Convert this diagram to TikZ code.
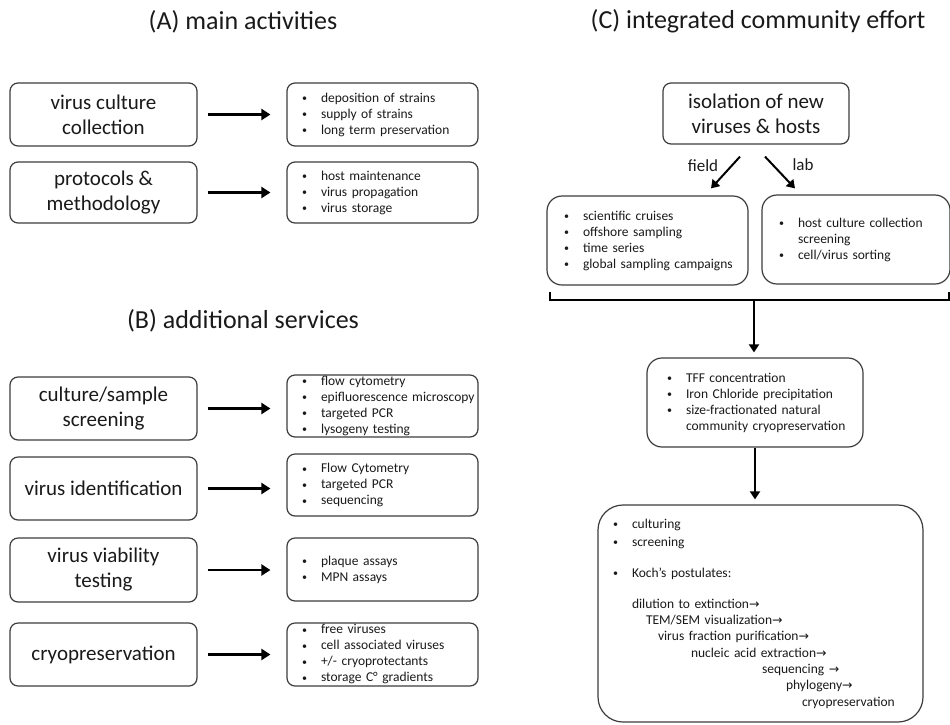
\documentclass[tikz,border=0pt]{standalone}
\usepackage{fontspec}
\setmainfont{Carlito}
\newfontfamily\djv{DejaVu Sans}
\usetikzlibrary{arrows.meta,calc}
\definecolor{boxc}{HTML}{3C3C3C}
\definecolor{txt}{HTML}{1A1A1A}
\newcommand\bitem[1]{\mbox{\makebox[19pt][l]{\raisebox{0.5pt}{\fontsize{10}{12}\selectfont\textbullet}}#1}}
\newcommand\rarr{{\djv\fontsize{12.5}{12}\selectfont →}}
\tikzset{
  x=1pt, y=-1pt,
  every node/.style={text=txt},
  box/.style={draw=boxc, line width=1.2pt, rounded corners=8pt, inner sep=0pt},
  big/.style={box, minimum width=187pt, align=center, font=\fontsize{21}{25}\selectfont},
  lst/.style={box, align=left, inner xsep=15pt, inner ysep=0pt, text width=#1, font=\fontsize{13.5}{16}\selectfont},
  title/.style={font=\fontsize{26}{30}\selectfont, inner sep=0pt},
  lbl/.style={font=\fontsize{17}{20}\selectfont, inner sep=0pt},
  harr/.style={draw=black, line width=2.6pt, -{Triangle[length=9pt,width=11pt]}, shorten <=10pt, shorten >=16pt},
  varr/.style={draw=black, line width=2pt, -{Triangle[length=8pt,width=10pt]}},
  brk/.style={draw=black, line width=1.8pt}
}
\begin{document}
\begin{tikzpicture}
\path[use as bounding box, fill=white] (0,0) rectangle (950,724);
% titles
\node[title] (tA) at (243,22) {(A) main activities};
\node[title] (tB) at (243,321) {(B) additional services};
\node[title] (tC) at (758,21) {(C) integrated community effort};
% (A)
\node[big, minimum height=63pt] (vcc) at (103.5,114.5) {virus culture\\collection};
\node[big, minimum height=61pt] (pm) at (103.5,192.5) {protocols \&\\methodology};
\node[lst=161pt, minimum height=63pt] (vccL) at (382.5,114.5) {\bitem{deposition of strains}\\\bitem{supply of strains}\\\bitem{long term preservation}};
\node[lst=161pt, minimum height=61pt] (pmL) at (382.5,192.5) {\bitem{host maintenance}\\\bitem{virus propagation}\\\bitem{virus storage}};
\draw[harr] (vcc.east) -- (vcc.east -| vccL.west);
\draw[harr] (pm.east) -- (pm.east -| pmL.west);
% (B)
\node[big, minimum height=63pt] (cs) at (103.5,408.5) {culture/sample\\screening};
\node[big, minimum height=63pt] (vi) at (103.5,488.5) {virus identification};
\node[big, minimum height=64pt] (vv) at (103.5,570) {virus viability\\testing};
\node[big, minimum height=63pt] (cr) at (103.5,654.5) {cryopreservation};
\node[lst=161pt, minimum height=62pt] (csL) at (382.5,406) {\bitem{flow cytometry}\\\bitem{epifluorescence microscopy}\\\bitem{targeted PCR}\\\bitem{lysogeny testing}};
\node[lst=161pt, minimum height=62pt] (viL) at (382.5,485) {\bitem{Flow Cytometry}\\\bitem{targeted PCR}\\\bitem{sequencing}};
\node[lst=161pt, minimum height=63pt] (vvL) at (382.5,569.5) {\bitem{plaque assays}\\\bitem{MPN assays}};
\node[lst=161pt, minimum height=63pt] (crL) at (382.5,654.5) {\bitem{free viruses}\\\bitem{cell associated viruses}\\\bitem{+/- cryoprotectants}\\\bitem{storage C° gradients}};
\draw[harr] (cs.east) -- (cs.east -| csL.west);
\draw[harr] (vi.east) -- (vi.east -| viL.west);
\draw[harr] (vv.east) -- (vv.east -| vvL.west);
\draw[harr] (cr.east) -- (cr.east -| crL.west);
% (C)
\node[big, minimum width=186pt, minimum height=61pt] (iso) at (756,113.5) {isolation of new\\viruses \& hosts};
\node[lst=167pt, inner xsep=17pt, rounded corners=15pt, minimum height=89pt] (field) at (647.5,240.5) {\bitem{scientific cruises}\\\bitem{offshore sampling}\\\bitem{time series}\\\bitem{global sampling campaigns}};
\node[lst=154pt, inner xsep=17pt, rounded corners=15pt, minimum height=89pt] (lab) at (856,239.5) {\bitem{host culture collection}\\\mbox{\hspace*{19pt}screening}\\\bitem{cell/virus sorting}};
\draw[varr] ($(iso.south)+(-16,12)$) -- ($(field.north)+(63.5,-7)$);
\draw[varr] ($(iso.south)+(9,12)$) -- ($(lab.north)+(-61,-6)$);
\node[lbl] (lf) at (703,166) {field};
\node[lbl] (ll) at (803,165) {lab};
\coordinate (brl) at (550,292);
\coordinate (brr) at (949,292);
\coordinate (brm) at (754,300);
\draw[brk] (brl) -- (brl |- brm) -- (brr |- brm) -- (brr);
\node[lst=176pt, inner xsep=20pt, rounded corners=15pt, minimum height=89pt] (tff) at (755,402.5) {\bitem{TFF concentration}\\\bitem{Iron Chloride precipitation}\\\bitem{size-fractionated natural}\\\mbox{\hspace*{19pt}community cryopreservation}};
\draw[varr, shorten >=5pt] (brm) -- (brm |- tff.north);
\node[lst=295pt, rounded corners=25pt, minimum height=217pt, font=\fontsize{13.5}{16.3}\selectfont] (bot) at (760.5,613.5) {\bitem{culturing}\\[1.7pt]\bitem{screening}\\[14.7pt]\bitem{Koch’s postulates:}\\[14.7pt]\mbox{\hspace*{19pt}dilution to extinction\rarr}\\\mbox{\hspace*{33pt}TEM/SEM visualization\rarr}\\\mbox{\hspace*{45pt}virus fraction purification\rarr}\\\mbox{\hspace*{78pt}nucleic acid extraction\rarr}\\\mbox{\hspace*{149pt}sequencing \rarr}\\\mbox{\hspace*{173pt}phylogeny\rarr}\\\mbox{\hspace*{189pt}cryopreservation}};
\draw[varr, shorten >=5pt] (tff.south) -- (tff.south |- bot.north);
\end{tikzpicture}
\end{document}
